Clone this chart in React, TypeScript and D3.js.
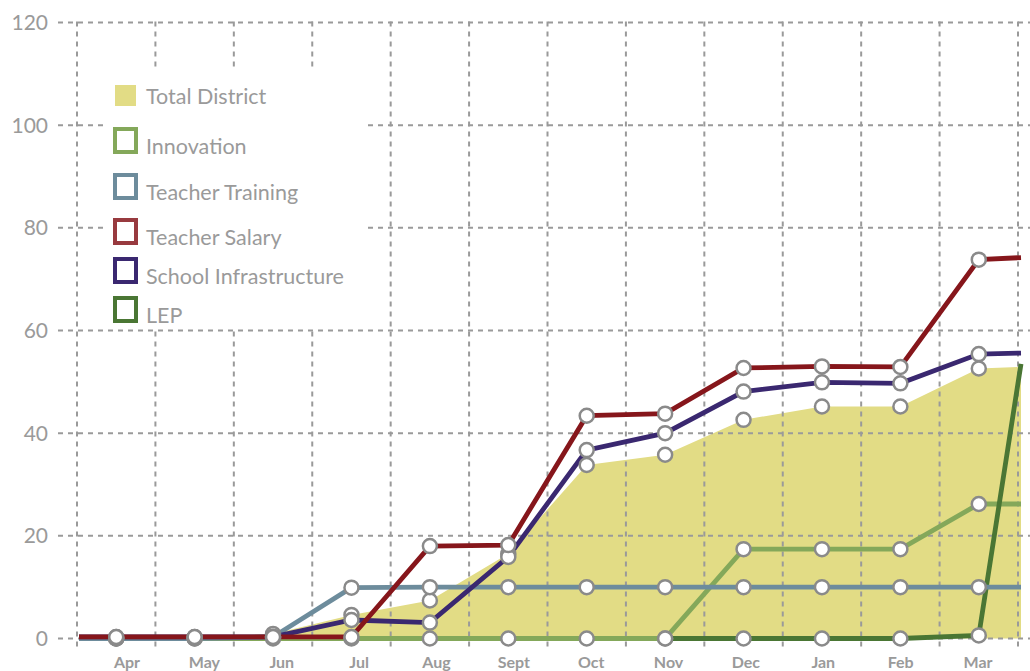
import React, { useEffect, useRef } from "react";
import * as d3 from "d3";

const months = ["Apr", "May", "Jun", "Jul", "Aug", "Sept", "Oct", "Nov", "Dec", "Jan", "Feb", "Mar"];
const yTicks = [0, 20, 40, 60, 80, 100, 120];

// monthly values, plus one closing value drawn at the right edge
const totalDistrict = [0, 0.2, 0.9, 4.6, 7.4, 16.5, 33.8, 35.8, 42.6, 45.2, 45.2, 52.6];
const totalDistrictEnd = 52.9;
const innovation = [0, 0, 0, 0, 0, 0, 0, 0, 17.4, 17.4, 17.4, 26.2];
const innovationEnd = 26.2;
const teacherTraining = [0, 0, 0.3, 9.9, 10, 10, 10, 10, 10, 10, 10, 10];
const teacherTrainingEnd = 10;
const teacherSalary = [0.3, 0.3, 0.3, 0.3, 18, 18.2, 43.4, 43.8, 52.7, 53, 52.9, 73.8];
const teacherSalaryEnd = 74.2;
const schoolInfrastructure = [0.3, 0.3, 0.3, 3.6, 3.1, 15.9, 36.7, 40, 48.1, 49.9, 49.7, 55.4];
const schoolInfrastructureEnd = 55.6;
const lep = [null, null, null, null, null, null, null, 0, 0, 0, 0, 0.6];
const lepEnd = 53.5;

const legendNames = ["Total District", "Innovation", "Teacher Training", "Teacher Salary", "School Infrastructure", "LEP"];
const legendBaselines = [104, 154, 200, 245, 284, 323];

const App = () => {
  const svgRef = useRef(null);
  const width = 1030;
  const height = 671;

  useEffect(() => {
    const svg = d3.select(svgRef.current);
    svg.selectAll("*").remove();

    const x = d3.scaleBand().domain(months).range([77, 1018]);
    const xLabel = d3.scalePoint().domain(months).range([127, 978]);
    const y = d3.scaleLinear().domain([0, 120]).range([638.5, 22.5]);
    const xStart = x.range()[0] + 2;
    const xEnd = x.range()[1] + 3;
    const cx = (m) => x(m) + x.bandwidth() / 2;

    const gray = "#9a9a9a";
    const font = "Lato, 'Open Sans', sans-serif";

    const series = [
      { name: "Innovation", values: innovation, end: innovationEnd, color: "#84a85a" },
      { name: "LEP", values: lep, end: lepEnd, color: "#4a7634" },
      { name: "Teacher Training", values: teacherTraining, end: teacherTrainingEnd, color: "#6d8c9c" },
      { name: "School Infrastructure", values: schoolInfrastructure, end: schoolInfrastructureEnd, color: "#3a2870" },
      { name: "Teacher Salary", values: teacherSalary, end: teacherSalaryEnd, color: "#86161b" },
    ];

    const toPoints = (values, end) => {
      const pts = months
        .map((m, i) => ({ x: cx(m), v: values[i] }))
        .filter((d) => d.v !== null);
      if (values[0] !== null) pts.unshift({ x: xStart, v: values[0] });
      pts.push({ x: xEnd, v: end });
      return pts;
    };

    // total district area
    const area = d3.area()
      .x((d) => d.x)
      .y0(y(0))
      .y1((d) => y(d.v));
    svg.append("path")
      .attr("d", area(toPoints(totalDistrict, totalDistrictEnd)))
      .attr("fill", "#e2dc85");

    // grid
    const grid = svg.append("g")
      .attr("stroke", gray)
      .attr("stroke-width", 2)
      .attr("stroke-dasharray", "5,5");
    grid.selectAll(".h")
      .data(yTicks)
      .join("line")
      .attr("x1", 58)
      .attr("x2", width)
      .attr("y1", (d) => y(d))
      .attr("y2", (d) => y(d));
    const edges = months.map((m) => x(m)).concat([x.range()[1]]);
    grid.selectAll(".v")
      .data(edges)
      .join("line")
      .attr("x1", (d) => d)
      .attr("x2", (d) => d)
      .attr("y1", y(120) - 1)
      .attr("y2", y(0) + 10);

    // white box behind legend
    svg.append("rect")
      .attr("x", 103)
      .attr("y", 67)
      .attr("width", 264)
      .attr("height", 262)
      .attr("fill", "#fff");

    // y labels
    svg.append("g")
      .selectAll("text")
      .data(yTicks)
      .join("text")
      .attr("x", 48)
      .attr("y", (d) => y(d))
      .attr("dy", "0.36em")
      .attr("text-anchor", "end")
      .attr("fill", gray)
      .style("font-family", font)
      .style("font-size", "21px")
      .text((d) => d);

    // month labels
    svg.append("g")
      .selectAll("text")
      .data(months)
      .join("text")
      .attr("x", (d) => xLabel(d))
      .attr("y", 668)
      .attr("text-anchor", "middle")
      .attr("fill", gray)
      .style("font-family", font)
      .style("font-weight", 700)
      .style("font-size", "16px")
      .text((d) => d);

    // lines
    const line = d3.line()
      .x((d) => d.x)
      .y((d) => y(d.v));
    svg.append("g")
      .selectAll("path")
      .data(series)
      .join("path")
      .attr("d", (s) => line(toPoints(s.values, s.end)))
      .attr("fill", "none")
      .attr("stroke", (s) => s.color)
      .attr("stroke-width", 4.8);

    // markers
    const allSeries = [{ values: totalDistrict }].concat(series);
    const markers = [];
    allSeries.forEach((s) => {
      months.forEach((m, i) => {
        if (s.values[i] !== null) markers.push({ x: cx(m), v: s.values[i] });
      });
    });
    svg.append("g")
      .selectAll("circle")
      .data(markers)
      .join("circle")
      .attr("cx", (d) => d.x)
      .attr("cy", (d) => y(d.v))
      .attr("r", 7)
      .attr("fill", "#fff")
      .attr("stroke", "#8a8a8a")
      .attr("stroke-width", 2.5);

    // legend
    const legendColors = ["#e2dc85", "#84a85a", "#6d8c9c", "#983a3f", "#3a2870", "#4a7634"];
    const legend = svg.append("g");
    legendNames.forEach((name, i) => {
      const base = legendBaselines[i];
      if (i === 0) {
        legend.append("rect")
          .attr("x", 115)
          .attr("y", base - 19)
          .attr("width", 21)
          .attr("height", 21)
          .attr("fill", legendColors[i]);
      } else {
        legend.append("rect")
          .attr("x", 115)
          .attr("y", base - 25)
          .attr("width", 21)
          .attr("height", 23)
          .attr("fill", "#fff")
          .attr("stroke", legendColors[i])
          .attr("stroke-width", 4);
      }
      legend.append("text")
        .attr("x", 146)
        .attr("y", base)
        .attr("fill", gray)
        .style("font-family", font)
        .style("font-size", "21.5px")
        .text(name);
    });
  }, []);

  return (
    <svg
      ref={svgRef}
      width={width}
      height={height}
      style={{ position: "absolute", left: 0, top: 0, background: "#fff" }}
    ></svg>
  );
};

export default App;
